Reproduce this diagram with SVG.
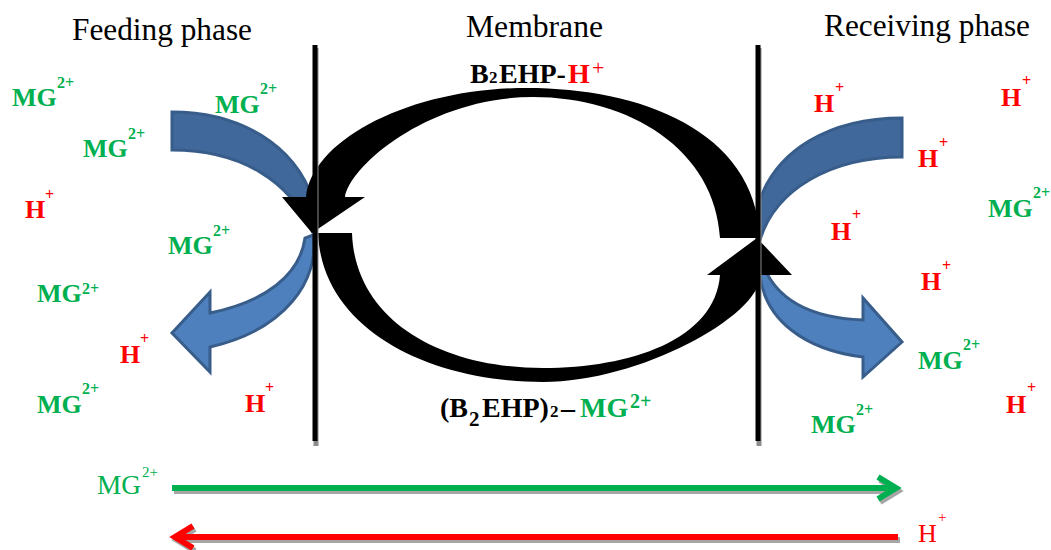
<svg xmlns="http://www.w3.org/2000/svg" width="1051" height="550" viewBox="0 0 1051 550">
<style>
.hdr{font-family:"Liberation Serif","Times New Roman",serif;font-size:31px;fill:#000}
.ion{font-family:"Liberation Serif","Times New Roman",serif;font-weight:bold;font-size:26px}
.sup{font-size:16px}
.g{fill:#00B050}
.r{fill:#FF0000}
.k{fill:#000}
.blueA{fill:#41689A;stroke:#385D8A;stroke-width:3;stroke-linejoin:miter}
.blueB{fill:#4E80BD;stroke:#385D8A;stroke-width:3;stroke-linejoin:miter}
.mem{stroke:#000;stroke-width:5}
.memsh{stroke:#8C8C8C;stroke-width:5}
.reg{font-family:"Liberation Serif","Times New Roman",serif;font-weight:normal}
</style>
<rect width="1051" height="550" fill="#fff"/>

<g id="headers">
<text class="hdr" x="72" y="40" textLength="180" lengthAdjust="spacingAndGlyphs">Feeding phase</text>
<text class="hdr" x="466" y="37" textLength="137" lengthAdjust="spacingAndGlyphs">Membrane</text>
<text class="hdr" x="824" y="36" textLength="206" lengthAdjust="spacingAndGlyphs">Receiving phase</text>
</g>

<g id="blue-arrows">
<path id="left-in" class="blueA" d="M172,112 C240,112 295,145 313,200 L313,233 C290,180 240,150 172,150 Z"/>
<path id="left-out" class="blueB" d="M313,235 C320,280 285,330 210,347 L210,372 L172,333 L210,292 L210,313 C265,302 300,275 305,238 Z"/>
<path id="right-in" class="blueA" d="M902,118 C830,118 775,150 758,205 L760,240 C775,190 830,157 902,157 Z"/>
<path id="right-out" class="blueB" d="M762,262 C775,300 810,318 863,320 L863,298 L902,342 L863,377 L863,357 C805,350 765,320 760,275 Z"/>
</g>

<g id="carrier-cycle">
<path id="upper-arc" fill="#000" d="M720,238 L760,238 C755,130 640,88 527,88 C410,88 312,140 306,197 L282,197 L312,233 L365,197 L345,197 C350,165 430,97 533,97 C630,97 715,150 720,238 Z"/>
<path id="lower-arc" fill="#000" d="M352,233 L318,233 C322,330 430,382 543,382 C640,382 762,315 760,275 L792,275 L757,238 L707,275 L720,275 C715,340 630,368 543,368 C440,368 355,320 352,233 Z"/>
</g>

<g id="membranes">
<line class="memsh" x1="316" y1="48" x2="316" y2="446"/>
<line class="mem" x1="315" y1="45" x2="315" y2="441"/>
<line class="memsh" x1="759" y1="48" x2="759" y2="446"/>
<line class="mem" x1="758" y1="45" x2="758" y2="441"/>
</g>

<g id="complex-labels">
<text id="b2ehp-h" class="ion k" style="font-size:28px"><tspan x="470" y="83">B</tspan><tspan x="489" y="83" style="font-size:17px">2</tspan><tspan x="499" y="83">EHP-</tspan><tspan x="568" y="83" class="r">H</tspan><tspan x="592" y="75" class="r reg" style="font-size:22px">+</tspan></text>
<text id="b2ehp2-mg" class="ion k" style="font-size:28px"><tspan x="440" y="417">(B</tspan><tspan x="469" y="426" style="font-size:21px">2</tspan><tspan x="482" y="417">EHP)</tspan><tspan x="550" y="417" style="font-size:17px">2</tspan><tspan x="561" y="417">–</tspan><tspan x="580" y="417" class="g">MG</tspan><tspan x="630" y="408" class="g" style="font-size:20px">2+</tspan></text>
</g>

<g id="feeding-ions" class="ion">
<text class="g"><tspan x="12" y="106">MG</tspan><tspan class="sup" x="57" y="88">2+</tspan></text>
<text class="g"><tspan x="215" y="113">MG</tspan><tspan class="sup" x="260" y="94">2+</tspan></text>
<text class="g"><tspan x="83" y="157">MG</tspan><tspan class="sup" x="128" y="139">2+</tspan></text>
<text class="r"><tspan x="25" y="218">H</tspan><tspan class="sup" x="45" y="200">+</tspan></text>
<text class="g"><tspan x="168" y="254">MG</tspan><tspan class="sup" x="213" y="236">2+</tspan></text>
<text class="g"><tspan x="37" y="302">MG</tspan><tspan class="sup" x="82" y="294">2+</tspan></text>
<text class="r"><tspan x="120" y="363">H</tspan><tspan class="sup" x="140" y="344">+</tspan></text>
<text class="g"><tspan x="37" y="413">MG</tspan><tspan class="sup" x="82" y="394">2+</tspan></text>
<text class="r"><tspan x="245" y="412">H</tspan><tspan class="sup" x="265" y="393">+</tspan></text>
</g>

<g id="receiving-ions" class="ion">
<text class="r"><tspan x="814" y="112">H</tspan><tspan class="sup" x="835" y="93">+</tspan></text>
<text class="r"><tspan x="1001" y="106">H</tspan><tspan class="sup" x="1022" y="86">+</tspan></text>
<text class="r"><tspan x="918" y="167">H</tspan><tspan class="sup" x="939" y="148">+</tspan></text>
<text class="g"><tspan x="988" y="217">MG</tspan><tspan class="sup" x="1033" y="198">2+</tspan></text>
<text class="r"><tspan x="831" y="240">H</tspan><tspan class="sup" x="852" y="220">+</tspan></text>
<text class="r"><tspan x="921" y="290">H</tspan><tspan class="sup" x="942" y="271">+</tspan></text>
<text class="g"><tspan x="918" y="369">MG</tspan><tspan class="sup" x="963" y="350">2+</tspan></text>
<text class="r"><tspan x="1006" y="413">H</tspan><tspan class="sup" x="1027" y="393">+</tspan></text>
<text class="g"><tspan x="811" y="433">MG</tspan><tspan class="sup" x="856" y="415">2+</tspan></text>
</g>

<g id="connectors" fill="none" stroke-width="6" stroke-linecap="butt" stroke-linejoin="miter">
<g id="mg-flow">
<line x1="174" y1="491" x2="896" y2="491" stroke="#A6A6A6"/>
<polyline points="880,480 898,491 880,502" stroke="#A6A6A6"/>
<line x1="172" y1="488" x2="894" y2="488" stroke="#00B050"/>
<polyline points="878,477 896,488 878,499" stroke="#00B050"/>
</g>
<g id="h-flow">
<line x1="900" y1="540" x2="178" y2="540" stroke="#A6A6A6"/>
<polyline points="195,529 177,540 195,551" stroke="#A6A6A6"/>
<line x1="898" y1="537" x2="176" y2="537" stroke="#FF0000"/>
<polyline points="193,526 175,537 193,548" stroke="#FF0000"/>
</g>
</g>

<g id="flow-labels" class="reg">
<text class="g"><tspan x="97" y="494" style="font-size:27px" textLength="44" lengthAdjust="spacingAndGlyphs">MG</tspan><tspan x="142" y="477" style="font-size:15px">2+</tspan></text>
<text class="r"><tspan x="918" y="542" style="font-size:26px">H</tspan><tspan x="938" y="522" style="font-size:15px">+</tspan></text>
</g>
</svg>
